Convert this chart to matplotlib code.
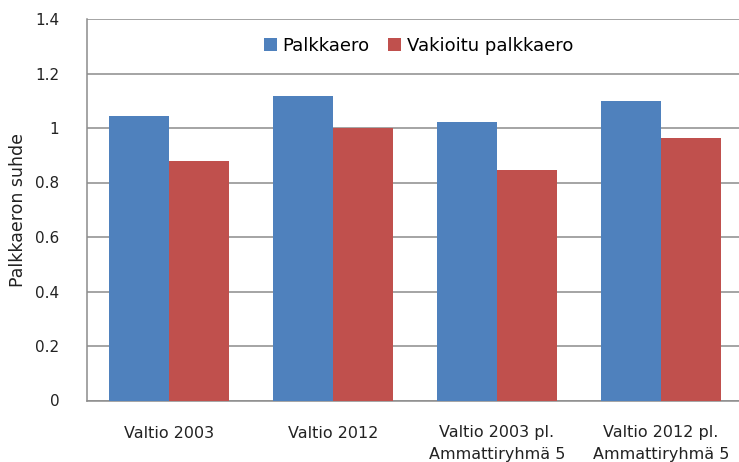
import numpy as np
import matplotlib.pyplot as plt

# Data
categories = ["Valtio 2003", "Valtio 2012", "Valtio 2003 pl.\nAmmattiryhmä 5", "Valtio 2012 pl.\nAmmattiryhmä 5"]
palkkaero = [1.045, 1.116, 1.021, 1.098]
vakioitu = [0.88, 1.0, 0.846, 0.962]
yticks = [0, 0.2, 0.4, 0.6, 0.8, 1.0, 1.2, 1.4]
yticklabels = ["0", "0.2", "0.4", "0.6", "0.8", "1", "1.2", "1.4"]

BLUE = "#4F81BD"
RED = "#C0504D"
GRID = "#8C8C8C"

fig = plt.figure(figsize=(7.39, 4.62), dpi=100)
ax = fig.add_axes([87 / 739, 61.5 / 462, 656 / 739, 381.5 / 462])

x = np.arange(len(categories))
w = 0.365
ax.bar(x - w / 2, palkkaero, w, color=BLUE, label="Palkkaero", zorder=3)
ax.bar(x + w / 2, vakioitu, w, color=RED, label="Vakioitu palkkaero", zorder=3)

ax.set_xlim(-0.5, 3.5)
ax.set_ylim(0, 1.4)
ax.set_yticks(yticks)
ax.set_yticklabels(yticklabels)
ax.set_xticks(x)
ax.set_xticklabels(categories, linespacing=1.5)
ax.tick_params(axis="both", length=0, colors="#222222")
ax.tick_params(axis="y", pad=20, labelsize=11)
ax.tick_params(axis="x", pad=18, labelsize=11.5)

ax.yaxis.grid(True, color=GRID, linewidth=1.1, zorder=0)
for s in ["top", "right"]:
    ax.spines[s].set_visible(False)
for s in ["left", "bottom"]:
    ax.spines[s].set_color(GRID)
    ax.spines[s].set_linewidth(1.1)

ax.set_ylabel("Palkkaeron suhde", fontsize=12.5, color="#222222", labelpad=6)

leg = ax.legend(loc="upper center", bbox_to_anchor=(0.505, 0.995), ncol=2, frameon=False,
                fontsize=13, handlelength=0.75, handleheight=0.75, handletextpad=0.3,
                columnspacing=1.0)

fig.savefig("out.png", dpi=100)
